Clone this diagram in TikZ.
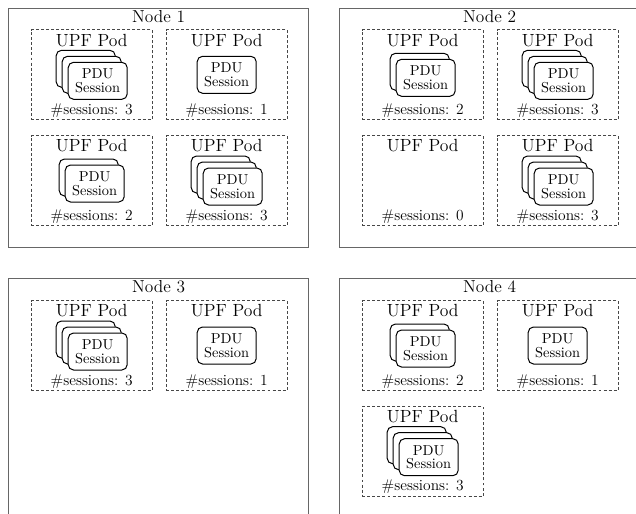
\documentclass[tikz,border=0pt]{standalone}
\usetikzlibrary{calc}
\tikzset{
  hostbox/.style={draw=black!60, line width=0.9pt, minimum width=225pt, minimum height=179.25pt, inner sep=0pt, anchor=north west},
  podbox/.style={draw=black!72, dash pattern=on 2.2pt off 1.6pt, line width=0.75pt, minimum width=90.75pt, minimum height=67.5pt, inner sep=0pt, anchor=north west},
  card/.style={draw=black, fill=white, rounded corners=4pt, line width=0.75pt, minimum width=44.25pt, minimum height=27.75pt, inner sep=0pt, align=center, font=\fontsize{10.8}{10.2}\selectfont},
  hostlabel/.style={font=\fontsize{13}{14}\selectfont, anchor=base, inner sep=0pt},
  podtitle/.style={font=\fontsize{13.2}{14}\selectfont, anchor=base, inner sep=0pt},
  podcount/.style={font=\fontsize{11.6}{13}\selectfont, anchor=base, inner sep=0pt}
}
\newcommand\upfpod[4]{%
  \node[podbox] (#1) at (#2,#3) {};
  \node[podtitle] (#1t) at ($(#1.north)+(0,-12.6pt)$) {UPF Pod};
  \node[podcount] (#1c) at ($(#1.south)+(0,4.5pt)$) {\#sessions: #4};
  \ifnum#4>0
    \foreach \k in {1,...,#4}{%
      \pgfmathsetmacro\off{4.5*((\k-1)-(#4-1)/2)}
      \ifnum\k=#4
        \node[card] (#1s\k) at ($(#1.center)+(\off pt,-\off pt)$) {PDU\\Session};
      \else
        \node[card] (#1s\k) at ($(#1.center)+(\off pt,-\off pt)$) {};
      \fi
    }
  \fi
}
\newcommand\hostnode[4]{%
  \node[hostbox] (#1) at (#2,#3) {};
  \node[hostlabel] (#1l) at ($(#1.north)+(0,-11pt)$) {#4};
}
\begin{document}
\begin{tikzpicture}[x=0.75pt,y=-0.75pt]
  \useasboundingbox (0,0) rectangle (636,514);
  \clip (0,0) rectangle (636,514);
  % Node 1
  \hostnode{n1}{8}{8}{Node 1}
  \upfpod{n1a}{30.7}{29.3}{3}
  \upfpod{n1b}{165.7}{29.3}{1}
  \upfpod{n1c}{30.7}{135}{2}
  \upfpod{n1d}{165.7}{135}{3}
  % Node 2
  \hostnode{n2}{339}{8}{Node 2}
  \upfpod{n2a}{361.7}{29.3}{2}
  \upfpod{n2b}{496.7}{29.3}{3}
  \upfpod{n2c}{361.7}{135}{0}
  \upfpod{n2d}{496.7}{135}{3}
  % Node 3
  \hostnode{n3}{8}{278}{Node 3}
  \upfpod{n3a}{30.7}{300}{3}
  \upfpod{n3b}{165.7}{300}{1}
  % Node 4
  \hostnode{n4}{339}{278}{Node 4}
  \upfpod{n4a}{361.7}{300}{2}
  \upfpod{n4b}{496.7}{300}{1}
  \upfpod{n4c}{361.7}{405.7}{3}
\end{tikzpicture}
\end{document}
